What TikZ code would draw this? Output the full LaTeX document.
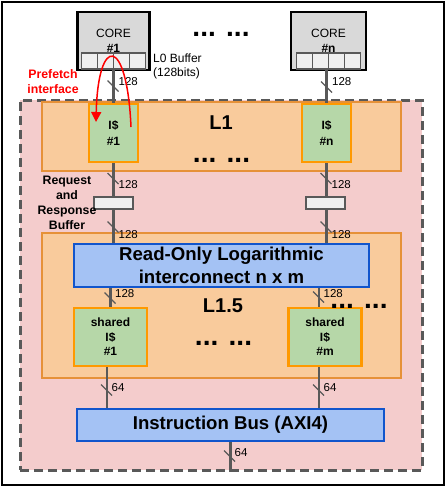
\documentclass[tikz,border=0pt]{standalone}
\usepackage{fontspec}
\setmainfont{Liberation Sans}
\usetikzlibrary{arrows.meta,calc}
\definecolor{pinkbg}{HTML}{F4CCCC}
\definecolor{orfill}{HTML}{F9CB9C}
\definecolor{ordraw}{HTML}{E69138}
\definecolor{grfill}{HTML}{B6D7A8}
\definecolor{grdraw}{HTML}{FF9900}
\definecolor{blfill}{HTML}{A4C2F4}
\definecolor{bldraw}{HTML}{1155CC}
\definecolor{corefill}{HTML}{D9D9D9}
\definecolor{cellfill}{HTML}{EFEFEF}
\definecolor{wirec}{HTML}{595959}
\definecolor{dashc}{HTML}{595959}
\newcommand\bmark[6]{%
  \draw[wirec, line width=1.4] (#1-6,#2-5.5) -- (#1+5,#2+5.5);
  \node[buslbl] (#6) at (#3,#4) {#5};}
\begin{document}
\begin{tikzpicture}[x=1pt,y=-1pt,
  box/.style={draw, inner sep=0, align=center},
  level/.style={box, fill=orfill, draw=ordraw, line width=1.6},
  cache/.style={box, fill=grfill, draw=grdraw, line width=2.2, font=\bfseries\fontsize{12}{16}\selectfont},
  scache/.style={cache, font=\bfseries\fontsize{12}{14.5}\selectfont},
  xbar/.style={box, fill=blfill, draw=bldraw, line width=2, font=\bfseries\fontsize{18.6}{23}\selectfont},
  core/.style={box, fill=corefill, draw=black, line width=2.2, font=\fontsize{12}{15}\selectfont},
  cell/.style={draw=wirec, fill=cellfill, line width=1.2, minimum width=16, minimum height=16, inner sep=0},
  rbuf/.style={draw=wirec, fill=cellfill, line width=1.2, minimum width=39, minimum height=12, inner sep=0},
  wire/.style={draw=wirec, line width=2.4},
  buslbl/.style={font=\fontsize{11.5}{12}\selectfont, anchor=west, inner sep=0},
  dots/.style={font=\bfseries\fontsize{28}{28}\selectfont, anchor=base, inner sep=0},
  lvllbl/.style={font=\bfseries\fontsize{20}{20}\selectfont, inner sep=0},
  note/.style={font=\bfseries\fontsize{12.3}{15}\selectfont, align=center, inner sep=0}
]
\useasboundingbox (0,0) rectangle (447,487);
\draw[line width=2.6] (2,2) rectangle (444,485);
% SoC region
\node[draw=dashc, fill=pinkbg, line width=3, dash pattern=on 9 off 5, minimum width=402, minimum height=370, inner sep=0] (soc) at (221,285) {};
% levels
\node[level, minimum width=359, minimum height=69] (l1) at (221.5,136.5) {};
\node[level, minimum width=359, minimum height=145] (l15) at (221.5,305.5) {};
\node[lvllbl] (l1t) at (221,123) {L1};
\node[lvllbl] (l15t) at (223,306) {L1.5};
% cores
\node[core, minimum width=72, minimum height=58] (core1) at (113.5,41) {CORE\\\textbf{\#1}};
\node[core, minimum width=75, minimum height=58] (coren) at (328.5,41) {CORE\\\textbf{\#n}};
\node[cell] (c1a) at (89.5,61) {};
\node[cell] (c1b) at (105.5,61) {};
\node[cell] (c1c) at (121.5,61) {};
\node[cell] (c1d) at (137.5,61) {};
\node[cell] (cna) at (304.5,61) {};
\node[cell] (cnb) at (320.5,61) {};
\node[cell] (cnc) at (336.5,61) {};
\node[cell] (cnd) at (352.5,61) {};
% L1 caches
\node[cache, minimum width=49, minimum height=58] (ic1) at (113.5,133) {I\$\\\#1};
\node[cache, minimum width=49, minimum height=58] (icn) at (326.5,133) {I\$\\\#n};
% interconnect
\node[xbar, minimum width=295, minimum height=43] (ro) at (221.5,265.5) {Read-Only Logarithmic\\interconnect n x m};
% shared caches
\node[scache, minimum width=73, minimum height=58] (sh1) at (110.5,337) {shared\\I\$\\\#1};
\node[scache, minimum width=73, minimum height=58] (shm) at (325,337) {shared\\I\$\\\#m};
% instruction bus
\node[xbar, minimum width=307, minimum height=32] (ib) at (230.5,425) {Instruction Bus (AXI4)};
% wires
\draw[wire] (ic1.north |- c1c.south) -- (ic1.north);
\draw[wire] (icn.north |- cnc.south) -- (icn.north);
\draw[wire] (ic1.south) -- (ic1.south |- ro.north);
\draw[wire] (icn.south) -- (icn.south |- ro.north);
\coordinate (shmt) at ([xshift=-6]shm.north);
\draw[wire] (sh1.north |- ro.south) -- (sh1.north);
\draw[wire] (shmt |- ro.south) -- (shmt);
\coordinate (sh1b) at ([xshift=-3.5]sh1.south);
\coordinate (shmb) at ([xshift=-6]shm.south);
\draw[wire] (sh1b) -- (sh1b |- ib.north);
\draw[wire] (shmb) -- (shmb |- ib.north);
\draw[wire] (ib.south) -- (ib.south |- soc.south);
% request/response buffers
\node[rbuf] (rb1) at (113.5,203) {};
\node[rbuf] (rbn) at (325.5,203) {};
% bus width marks
\bmark{113.5}{86}{118.5}{82}{128}{m1}
\bmark{327}{87}{332}{82}{128}{m2}
\bmark{113.5}{178.5}{118.5}{185}{128}{m3}
\bmark{326.5}{178.5}{331.5}{185}{128}{m4}
\bmark{113.5}{227}{118.5}{235}{128}{m5}
\bmark{326.5}{227}{331.5}{235}{128}{m6}
\bmark{110.5}{298}{115}{294}{128}{m7}
\bmark{319}{297}{323.5}{293.5}{128}{m8}
\bmark{107}{390}{111.5}{388}{64}{m9}
\bmark{319}{390}{323.5}{388}{64}{m10}
\bmark{230}{456}{234.5}{453}{64}{m11}
% texts
\node[font=\fontsize{12}{14}\selectfont, anchor=west, align=left, inner sep=0] (l0) at (153,66) {L0 Buffer\\(128bits)};
\node[note, red] (pf) at (53,82) {Prefetch\\interface};
\node[note] (rrb) at (67,202.5) {Request\\and\\Response\\Buffer};
% dots
\node[dots] (d1) at (221,37) {... ...};
\node[dots] (d2) at (221.5,162) {... ...};
\node[dots] (d3) at (359,308) {... ...};
\node[dots] (d4) at (223.5,345) {... ...};
% prefetch arrow
\coordinate (pfs) at (131,127);
\coordinate (pfe) at (96,122);
\draw[red, line width=1.5, -{Triangle[length=10,width=10]}] (pfs) .. controls (127,35) and (98,35) .. (pfe);
\end{tikzpicture}
\end{document}
